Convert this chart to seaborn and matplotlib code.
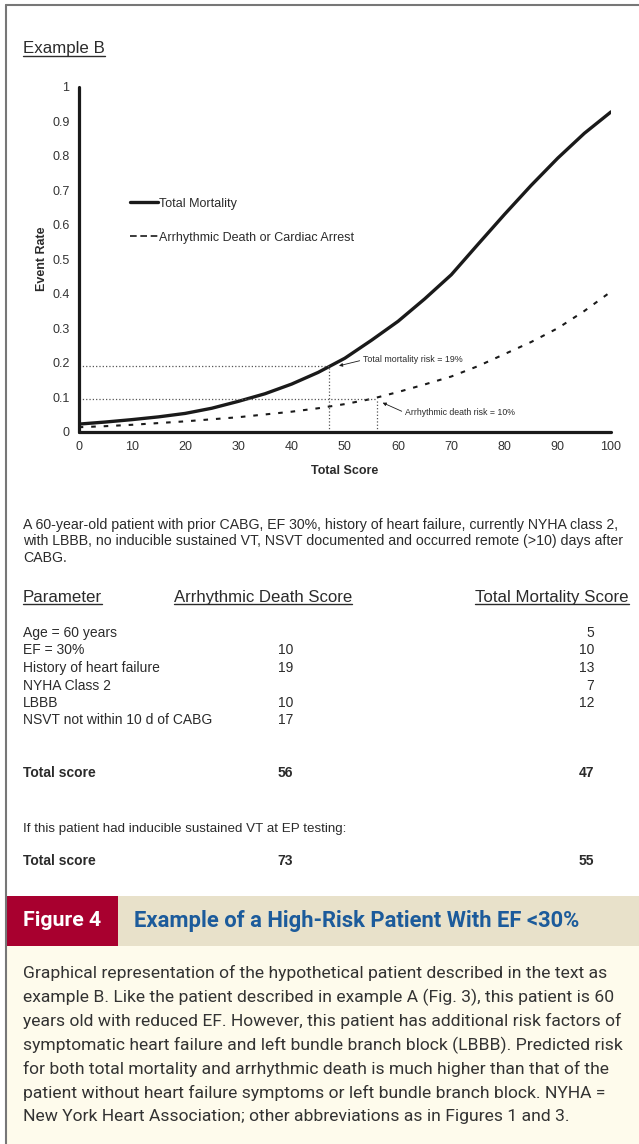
import matplotlib
matplotlib.use('Agg')
import matplotlib.pyplot as plt
from matplotlib.patches import Rectangle
from matplotlib.lines import Line2D
import pandas as pd
import seaborn as sns

# ---------------------------
# Data
# ---------------------------
score = [0, 5, 10, 15, 20, 25, 30, 35, 40, 45, 50,
         55, 60, 65, 70, 75, 80, 85, 90, 95, 100]
total_mortality = [0.022, 0.028, 0.035, 0.043, 0.053, 0.068, 0.088, 0.110, 0.138, 0.172, 0.213,
                   0.265, 0.320, 0.385, 0.455, 0.543, 0.630, 0.714, 0.793, 0.865, 0.927]
arrhythmic_death = [0.013, 0.016, 0.020, 0.025, 0.030, 0.036, 0.042, 0.050, 0.058, 0.068, 0.080,
                    0.095, 0.115, 0.137, 0.160, 0.190, 0.225, 0.260, 0.300, 0.350, 0.406]

tm_score, tm_risk = 47, 0.19
ad_score, ad_risk = 56, 0.095

parameters = ["Age = 60 years", "EF = 30%", "History of heart failure",
              "NYHA Class 2", "LBBB", "NSVT not within 10 d of CABG"]
arrhythmic_points = ["", "10", "19", "", "10", "17"]
mortality_points = ["5", "10", "13", "7", "12", ""]
total_arrhythmic, total_mort = 56, 47
vt_arrhythmic, vt_mort = 73, 55

para_lines = [
    "A 60-year-old patient with prior CABG, EF 30%, history of heart failure, currently NYHA class 2,",
    "with LBBB, no inducible sustained VT, NSVT documented and occurred remote (>10) days after",
    "CABG.",
]
caption_lines = [
    "Graphical representation of the hypothetical patient described in the text as",
    "example B. Like the patient described in example A (Fig. 3), this patient is 60",
    "years old with reduced EF. However, this patient has additional risk factors of",
    "symptomatic heart failure and left bundle branch block (LBBB). Predicted risk",
    "for both total mortality and arrhythmic death is much higher than that of the",
    "patient without heart failure symptoms or left bundle branch block. NYHA =",
    "New York Heart Association; other abbreviations as in Figures 1 and 3.",
]

# ---------------------------
# Figure
# ---------------------------
W, H = 639, 1144
sns.set_theme(style="white")
plt.rcParams['font.family'] = ['Liberation Sans', 'DejaVu Sans']

fig = plt.figure(figsize=(W / 100, H / 100), dpi=100)
fig.patch.set_facecolor('white')


def fx(x):
    return x / W


def fy(y):
    return 1 - y / H


ink = '#1a1a1a'
txt = '#2b2b2b'

# page border (top / left)
fig.add_artist(Line2D([fx(6), 1], [fy(5), fy(5)], color='#777777', lw=1.5))
fig.add_artist(Line2D([fx(6), fx(6)], [fy(5), 0], color='#777777', lw=1.5))

# ---------------------------
# Chart
# ---------------------------
ax = fig.add_axes([fx(78.7), fy(431.7), (611 - 78.7) / W, (431.7 - 86.7) / H])

df = pd.DataFrame({"Total Score": score, "Total Mortality": total_mortality,
                   "Arrhythmic": arrhythmic_death})

sns.lineplot(data=df, x="Total Score", y="Total Mortality", ax=ax, color=ink,
             lw=2.4, legend=False)
sns.lineplot(data=df, x="Total Score", y="Arrhythmic", ax=ax, color=ink,
             lw=1.5, linestyle=(0, (2.2, 3.8)), legend=False)

# guide lines
gcol = '#555555'
ax.plot([0, tm_score], [tm_risk, tm_risk], ls=':', lw=0.9, color=gcol)
ax.plot([tm_score, tm_score], [0, tm_risk], ls=':', lw=0.9, color=gcol)
ax.plot([0, ad_score], [ad_risk, ad_risk], ls=':', lw=0.9, color=gcol)
ax.plot([ad_score, ad_score], [0, ad_risk], ls=':', lw=0.9, color=gcol)

arrow = dict(arrowstyle='-|>', lw=0.6, color=ink, shrinkA=0, shrinkB=0,
             mutation_scale=5, relpos=(0, 0.5))
ax.annotate("Total mortality risk = 19%", xy=(tm_score + 1.9, tm_risk + 0.001),
            xytext=(53.4, 0.208), fontsize=6.4, color=txt, va='center', ha='left',
            arrowprops=arrow)
ax.annotate("Arrhythmic death risk = 10%", xy=(ad_score + 1.1, ad_risk - 0.011),
            xytext=(61.3, 0.055), fontsize=6.3, color=txt, va='center', ha='left',
            arrowprops=arrow)

ax.set_xlim(0, 100)
ax.set_ylim(0, 1)
ax.set_xticks(range(0, 101, 10))
ax.set_xticks(range(5, 100, 10), minor=True)
yt = [i / 10 for i in range(11)]
ax.set_yticks(yt)
ax.set_yticklabels(["0"] + [f"{v:.1f}" for v in yt[1:-1]] + ["1"])
ax.set_yticks([i / 10 + 0.05 for i in range(10)], minor=True)
ax.tick_params(which='both', direction='out', length=2.6, width=2.6, color=ink,
               labelsize=9, labelcolor='#333333', pad=4)
ax.tick_params(axis='both', which='minor', labelleft=False, labelbottom=False)

for s in ['top', 'right']:
    ax.spines[s].set_visible(False)
for s in ['left', 'bottom']:
    ax.spines[s].set_linewidth(2.3)
    ax.spines[s].set_color(ink)
    ax.spines[s].set_capstyle('round')

ax.set_xlabel("Total Score", fontsize=9, fontweight='bold', color=txt, labelpad=9)
ax.set_ylabel("Event Rate", fontsize=9, fontweight='bold', color=txt, labelpad=3)

legend_handles = [
    Line2D([], [], color=ink, lw=2.4),
    Line2D([], [], color=ink, lw=1.2, ls=(0, (4, 2.2))),
]
ax.legend(legend_handles, ["Total Mortality", "Arrhythmic Death or Cardiac Arrest"],
          loc='upper left', bbox_to_anchor=(0.096, 0.678), frameon=False,
          fontsize=9, handlelength=2.25, handletextpad=0.05, labelspacing=1.75,
          borderpad=0, borderaxespad=0, labelcolor=txt)

# ---------------------------
# Text block / table
# ---------------------------
underlined = []
underlined.append(fig.text(fx(23), fy(53.5), "Example B", fontsize=12.2, color=txt, va='baseline'))

for i, line in enumerate(para_lines):
    fig.text(fx(23), fy(529 + 16.3 * i), line, fontsize=10.2, color=txt, va='baseline')

hy = 602
underlined.append(fig.text(fx(23), fy(hy), "Parameter", fontsize=12.2, color=txt, va='baseline'))
underlined.append(fig.text(fx(174), fy(hy), "Arrhythmic Death Score", fontsize=12.1, color=txt,
                           va='baseline'))
underlined.append(fig.text(fx(629), fy(hy), "Total Mortality Score", fontsize=12.2, color=txt,
                           va='baseline', ha='right'))

for i, p in enumerate(parameters):
    yb = 637 + 17.5 * i
    fig.text(fx(23), fy(yb), p, fontsize=10, color=txt, va='baseline')
    fig.text(fx(293), fy(yb), arrhythmic_points[i], fontsize=10, color=txt, va='baseline', ha='right')
    fig.text(fx(594), fy(yb), mortality_points[i], fontsize=10, color=txt, va='baseline', ha='right')

fig.text(fx(23), fy(777), "Total score", fontsize=10, fontweight='bold', color=txt, va='baseline')
fig.text(fx(293), fy(777), str(total_arrhythmic), fontsize=10, fontweight='bold', color=txt,
         va='baseline', ha='right')
fig.text(fx(594), fy(777), str(total_mort), fontsize=10, fontweight='bold', color=txt,
         va='baseline', ha='right')

fig.text(fx(23), fy(832), "If this patient had inducible sustained VT at EP testing:",
         fontsize=9.6, color=txt, va='baseline')
fig.text(fx(23), fy(865), "Total score", fontsize=10, fontweight='bold', color=txt, va='baseline')
fig.text(fx(293), fy(865), str(vt_arrhythmic), fontsize=10, fontweight='bold', color=txt,
         va='baseline', ha='right')
fig.text(fx(594), fy(865), str(vt_mort), fontsize=10, fontweight='bold', color=txt,
         va='baseline', ha='right')

# ---------------------------
# Caption panel
# ---------------------------
fig.add_artist(Rectangle((fx(7), fy(946)), fx(118) - fx(7), (946 - 896) / H,
                         transform=fig.transFigure, color='#A8002F', lw=0))
fig.add_artist(Rectangle((fx(118), fy(946)), 1 - fx(118), (946 - 896) / H,
                         transform=fig.transFigure, color='#E8E1CA', lw=0))
fig.add_artist(Rectangle((fx(7), 0), 1 - fx(7), (H - 946) / H,
                         transform=fig.transFigure, color='#FEFBEC', lw=0))

fig.text(fx(23), fy(921), "Figure 4", fontsize=15.3, fontweight='bold', color='white',
         va='center', family=['Roboto', 'DejaVu Sans'])
fig.text(fx(134), fy(921), "Example of a High-Risk Patient With EF <30%", fontsize=15.8,
         fontweight='bold', color='#1C5B9B', va='center', family=['Roboto', 'DejaVu Sans'])

for i, line in enumerate(caption_lines):
    fig.text(fx(23), fy(973 + 24 * i), line, fontsize=12.6, color='#333333', va='center',
             family=['Roboto', 'DejaVu Sans'])

# underlines
fig.canvas.draw()
r = fig.canvas.get_renderer()
for t in underlined:
    bb = t.get_window_extent(r)
    _, yb = t.get_position()
    yline = yb - 2.4 / H
    fig.add_artist(Line2D([bb.x0 / W, bb.x1 / W], [yline, yline], color=txt, lw=1.0))

fig.savefig("out.png", dpi=100)
